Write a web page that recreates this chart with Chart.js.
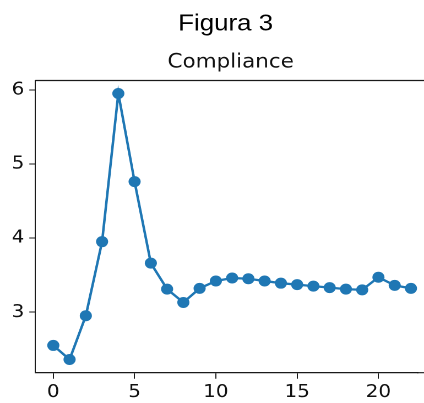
<!DOCTYPE html>
<html>
<head>
<meta charset="utf-8">
<script src="https://cdn.jsdelivr.net/npm/chart.js@4"></script>
<style>
html,body{margin:0;padding:0;background:#fff;overflow:hidden;width:424px;height:403px;}
#wrap{width:385px;height:403px;transform:scaleX(1.1013);transform-origin:0 0;}
canvas{display:block;}
</style>
</head>
<body>
<div id="wrap"><canvas id="c" width="385" height="403"></canvas></div>
<script>
const categories = [0,1,2,3,4,5,6,7,8,9,10,11,12,13,14,15,16,17,18,19,20,21,22];
const compliance = [2.55,2.36,2.95,3.95,5.95,4.76,3.66,3.31,3.13,3.32,3.42,3.46,3.45,3.42,3.39,3.37,3.35,3.33,3.31,3.30,3.47,3.36,3.32];
const xTicks = [0,5,10,15,20];
const yTicks = [3,4,5,6];
const figTitle = 'Figura 3';
const axTitle = 'Compliance';

const points = categories.map((c,i)=>({x:c,y:compliance[i]}));

const framePlugin = {
  id:'frame',
  afterDraw(chart){
    const {ctx, chartArea} = chart;
    ctx.save();
    ctx.strokeStyle = '#1a1a1a';
    ctx.lineWidth = 1.2;
    ctx.beginPath();
    ctx.moveTo(chartArea.left, chartArea.top);
    ctx.lineTo(chart.width + 5, chartArea.top);
    ctx.moveTo(chartArea.right - 1, chartArea.bottom);
    ctx.lineTo(chart.width + 5, chartArea.bottom);
    ctx.stroke();
    ctx.fillStyle = '#000';
    ctx.textAlign = 'center';
    ctx.textBaseline = 'alphabetic';
    ctx.font = '23.5px "Liberation Sans", Arial, sans-serif';
    ctx.fillText(figTitle, 225.6/1.1013, 30.7);
    ctx.fillStyle = '#111';
    ctx.font = '19.5px "DejaVu Sans", sans-serif';
    ctx.fillText(axTitle, 230.7/1.1013, 67.7);
    ctx.restore();
  }
};

new Chart(document.getElementById('c'), {
  type:'line',
  data:{
    datasets:[{
      data: points,
      borderColor:'#1f77b4',
      backgroundColor:'#1f77b4',
      borderWidth:2.3,
      pointRadius:5.5,
      pointBorderWidth:0,
      pointBackgroundColor:'#1f77b4',
      tension:0,
      fill:false
    }]
  },
  options:{
    responsive:false,
    animation:false,
    devicePixelRatio:2,
    layout:{padding:{top:80.5,left:0,right:0,bottom:0}},
    plugins:{legend:{display:false},tooltip:{enabled:false},title:{display:false}},
    scales:{
      x:{
        type:'linear',
        min:-1.104, max:22.43,
        afterBuildTicks(s){ s.ticks = xTicks.map(v=>({value:v})); },
        afterFit(s){ s.height = 30.3; },
        grid:{display:true, drawOnChartArea:false, drawTicks:true, tickLength:6, color:'#1a1a1a', lineWidth:1},
        border:{display:true, color:'#1a1a1a', width:1.2},
        ticks:{color:'#111', font:{family:'"DejaVu Sans", sans-serif', size:18}, padding:3, maxRotation:0, autoSkip:false}
      },
      y:{
        type:'linear',
        min:2.182, max:6.125,
        afterBuildTicks(s){ s.ticks = yTicks.map(v=>({value:v})); },
        afterFit(s){ s.width = 32.1; },
        grid:{display:true, drawOnChartArea:false, drawTicks:true, tickLength:5.5, color:'#1a1a1a', lineWidth:1},
        border:{display:true, color:'#1a1a1a', width:1},
        ticks:{color:'#111', font:{family:'"DejaVu Sans", sans-serif', size:18}, padding:4.5, autoSkip:false}
      }
    }
  },
  plugins:[framePlugin]
});
</script>
</body>
</html>
